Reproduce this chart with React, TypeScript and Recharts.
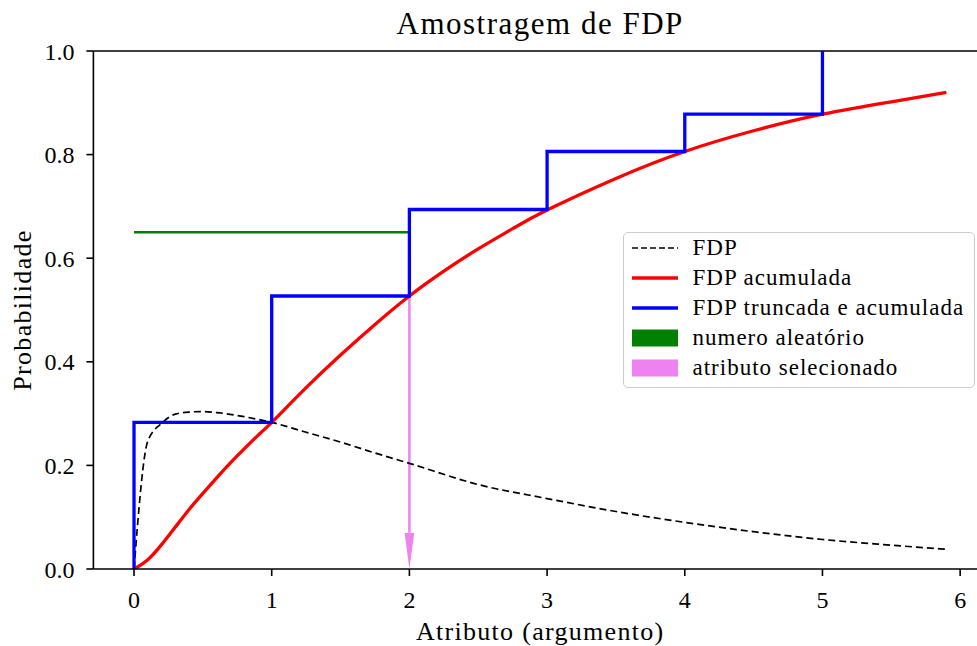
import { ComposedChart, Line, Scatter, XAxis, YAxis, ReferenceLine, Label } from 'recharts';

// density curve (FDP)
const pdfX = [0, 0.1, 0.2, 0.3, 0.4, 0.5, 0.6, 0.8, 1.0, 1.25, 1.5, 1.75, 2.0, 2.5, 3.0, 3.5, 4.0, 4.5, 5.0, 5.5, 5.9];
const pdfY = [0, 0.247, 0.281, 0.299, 0.303, 0.304, 0.302, 0.294, 0.283, 0.264, 0.245, 0.224, 0.204, 0.163, 0.136, 0.111, 0.09, 0.072, 0.057, 0.046, 0.038];

// cumulative curve
const cdfX = [0, 0.1, 0.2, 0.3, 0.4, 0.5, 0.6, 0.7, 0.8, 0.9, 1.0, 1.25, 1.5, 1.75, 2.0, 2.25, 2.5, 2.75, 3.0, 3.5, 4.0, 4.5, 5.0, 5.5, 5.9];
const cdfY = [0, 0.018, 0.047, 0.081, 0.115, 0.146, 0.176, 0.205, 0.232, 0.258, 0.283, 0.35, 0.413, 0.472, 0.527, 0.575, 0.618, 0.657, 0.693, 0.754, 0.806, 0.846, 0.878, 0.902, 0.92];

// truncated cumulative (step)
const stepX = [0, 0, 1, 2, 3, 4, 5];
const stepY = [0, 0.283, 0.527, 0.694, 0.806, 0.878, 1.0];

// random number drawn
const randX = [0, 2];
const randY = [0.65, 0.65];

// selected attribute arrow
const arrowX = [2, 2];
const arrowY = [0.527, 0.07];
const arrowTipX = [2];
const arrowTipY = [0];

const xTicks = [0, 1, 2, 3, 4, 5, 6];
const yTicks = [0, 0.2, 0.4, 0.6, 0.8, 1.0];

const zip = (xs: number[], ys: number[]) => xs.map((x, i) => ({ x, y: ys[i] }));

const pdfData = zip(pdfX, pdfY);
const cdfData = zip(cdfX, cdfY);
const stepData = zip(stepX, stepY);
const randData = zip(randX, randY);
const arrowData = zip(arrowX, arrowY);
const arrowTipData = zip(arrowTipX, arrowTipY);

const FONT = '"Liberation Serif", "Times New Roman", serif';
const tickStyle = { fill: '#000', fontSize: 24, fontFamily: FONT };

const legendItems = [
  { label: 'FDP', kind: 'line', color: '#000000', width: 1.7, dash: '6 3' },
  { label: 'FDP acumulada', kind: 'line', color: '#ff0000', width: 3.3 },
  { label: 'FDP truncada e acumulada', kind: 'line', color: '#0000ff', width: 3.3 },
  { label: 'numero aleatório', kind: 'patch', color: '#008000' },
  { label: 'atributo selecionado', kind: 'patch', color: '#ee82ee' },
];

const ArrowHead = (props: any) => {
  const { cx, cy } = props;
  return <polygon points={`${cx},${cy} ${cx - 4.8},${cy - 36} ${cx + 4.8},${cy - 36}`} fill="#ee82ee" />;
};

export default function App() {
  return (
    <div
      style={{
        position: 'absolute',
        left: 0,
        top: 0,
        width: 977,
        height: 646,
        overflow: 'hidden',
        background: '#fff',
        fontFamily: FONT,
      }}
    >
      <div
        style={{
          position: 'absolute',
          left: 93.4,
          width: 893.6,
          top: 8,
          textAlign: 'center',
          fontSize: 31,
          lineHeight: '31px',
          letterSpacing: 1.5,
          color: '#000',
        }}
      >
        Amostragem de FDP
      </div>

      <ComposedChart width={1000} height={646} margin={{ top: 51, right: 13, left: 0, bottom: 0 }}>
        <XAxis
          type="number"
          dataKey="x"
          domain={[-0.295, 6.195]}
          allowDataOverflow
          ticks={xTicks}
          interval={0}
          height={77}
          tickSize={7}
          tickMargin={15}
          tick={tickStyle}
          axisLine={{ stroke: '#000', strokeWidth: 1.6 }}
          tickLine={{ stroke: '#000', strokeWidth: 1.6 }}
        >
          <Label
            content={(p: any) => {
              const vb = p.viewBox;
              return (
                <text
                  x={vb.x + vb.width / 2}
                  y={640}
                  textAnchor="middle"
                  fontSize={26}
                  fontFamily={FONT}
                  letterSpacing={1.3}
                  fill="#000"
                >
                  Atributo (argumento)
                </text>
              );
            }}
          />
        </XAxis>
        <YAxis
          type="number"
          dataKey="y"
          domain={[0, 1]}
          allowDataOverflow
          ticks={yTicks}
          interval={0}
          width={93.4}
          tickSize={7}
          tickMargin={12}
          tick={tickStyle}
          tickFormatter={(v: number) => v.toFixed(1)}
          axisLine={{ stroke: '#000', strokeWidth: 1.6 }}
          tickLine={{ stroke: '#000', strokeWidth: 1.6 }}
        >
          <Label
            content={(p: any) => {
              const vb = p.viewBox;
              const cy = vb.y + vb.height / 2;
              return (
                <text
                  x={31}
                  y={cy}
                  transform={`rotate(-90, 31, ${cy})`}
                  textAnchor="middle"
                  fontSize={26}
                  fontFamily={FONT}
                  letterSpacing={1.3}
                  fill="#000"
                >
                  Probabilidade
                </text>
              );
            }}
          />
        </YAxis>

        {/* top spine */}
        <ReferenceLine y={1} stroke="#000" strokeWidth={1.6} />

        <Line data={arrowData} dataKey="y" type="linear" stroke="#ee82ee" strokeWidth={2.5} dot={false} activeDot={false} isAnimationActive={false} />
        <Scatter data={arrowTipData} dataKey="y" shape={ArrowHead} isAnimationActive={false} />
        <Line
          data={pdfData}
          dataKey="y"
          type="monotone"
          stroke="#000"
          strokeWidth={1.7}
          strokeDasharray="7 4"
          dot={false}
          activeDot={false}
          isAnimationActive={false}
        />
        <Line data={cdfData} dataKey="y" type="natural" stroke="#ff0000" strokeWidth={3.3} dot={false} activeDot={false} isAnimationActive={false} />
        <Line data={randData} dataKey="y" type="linear" stroke="#008000" strokeWidth={2.5} dot={false} activeDot={false} isAnimationActive={false} />
        <Line data={stepData} dataKey="y" type="stepAfter" stroke="#0000ff" strokeWidth={3.3} dot={false} activeDot={false} isAnimationActive={false} />
      </ComposedChart>

      <div
        style={{
          position: 'absolute',
          left: 623,
          top: 232,
          width: 352,
          height: 156,
          boxSizing: 'border-box',
          border: '1.5px solid #cccccc',
          borderRadius: 5,
          background: 'rgba(255,255,255,0.8)',
        }}
      >
        {legendItems.map((item, i) => (
          <div
            key={item.label}
            style={{
              position: 'absolute',
              left: 0,
              top: 30 * i,
              height: 30,
              width: '100%',
              display: 'flex',
              alignItems: 'center',
            }}
          >
            <svg width={46} height={30} style={{ position: 'absolute', left: 7.5, top: 0 }}>
              {item.kind === 'line' ? (
                <line
                  x1={0}
                  x2={46}
                  y1={15}
                  y2={15}
                  stroke={item.color}
                  strokeWidth={item.width}
                  strokeDasharray={item.dash}
                />
              ) : (
                <rect x={0} y={6.5} width={46} height={17} fill={item.color} />
              )}
            </svg>
            <span
              style={{
                position: 'absolute',
                left: 68.5,
                fontSize: 23,
                letterSpacing: 1,
                lineHeight: '30px',
                color: '#000',
                whiteSpace: 'nowrap',
              }}
            >
              {item.label}
            </span>
          </div>
        ))}
      </div>
    </div>
  );
}
